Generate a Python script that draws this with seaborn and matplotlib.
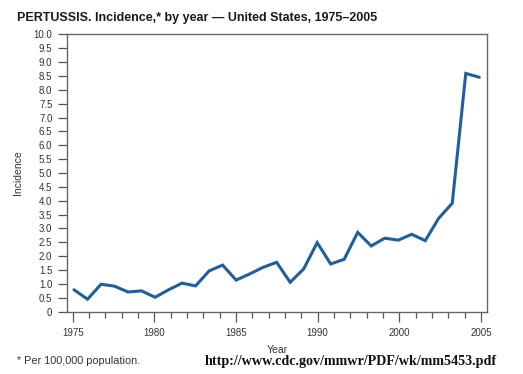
import numpy as np
import pandas as pd
import matplotlib
matplotlib.use("Agg")
import matplotlib.pyplot as plt
import seaborn as sns

years = list(range(1975, 2006))
incidence = [0.79, 0.45, 0.99, 0.92, 0.71, 0.75, 0.52, 0.79, 1.03, 0.93,
             1.47, 1.68, 1.14, 1.36, 1.60, 1.78, 1.06, 1.54, 2.49, 1.72,
             1.89, 2.86, 2.37, 2.65, 2.58, 2.79, 2.56, 3.37, 3.91, 8.59, 8.45]
x_tick_labels = ["1975", "1980", "1985", "1990", "2000", "2005"]
y_ticks = [i * 0.5 for i in range(21)]
y_tick_labels = ["0"] + [f"{v:.1f}" for v in y_ticks[1:]]

df = pd.DataFrame({"Year": years, "Incidence": incidence})

sns.set_theme(style="white")
plt.rcParams["font.family"] = ["Liberation Sans", "DejaVu Sans"]

fig = plt.figure(figsize=(5.23, 3.74), dpi=100)
ax = fig.add_axes([0.1281, 0.1666, 0.9306 - 0.1281, 0.9083 - 0.1666])

sns.lineplot(data=df, x="Year", y="Incidence", ax=ax, color="#1f5f9e",
             linewidth=2.2, solid_joinstyle="miter")

ax.set_xlim(1974.48, 2005.55)
ax.set_ylim(0, 10)

# x ticks (as printed in the original: 26 evenly spaced ticks)
tick_pos = np.linspace(1974.9, 2005.13, 26)
ax.set_xticks(tick_pos[::5])
ax.set_xticklabels(x_tick_labels)
ax.set_xticks(tick_pos, minor=True)
ax.tick_params(axis="x", which="major", direction="out", length=7.5, width=0.9,
               color="#555555", labelsize=7, labelcolor="#333333", pad=4, bottom=True)
ax.tick_params(axis="x", which="minor", direction="out", length=4.5, width=0.9,
               color="#555555", bottom=True)

ax.set_yticks(y_ticks)
ax.set_yticklabels(y_tick_labels)
ax.tick_params(axis="y", which="major", direction="out", length=6.5, width=0.9,
               color="#555555", labelsize=7, labelcolor="#333333", pad=4, left=True)

for s in ax.spines.values():
    s.set_color("#666666")
    s.set_linewidth(1.0)
    s.set_visible(True)

ax.set_xlabel("Year", fontsize=7.5, color="#333333", labelpad=5)
ax.set_ylabel("Incidence", fontsize=7.5, color="#333333", labelpad=8)

fig.text(17 / 523, 1 - 17.5 / 374,
         "PERTUSSIS. Incidence,* by year \u2014 United States, 1975\u20132005",
         fontsize=9, fontweight="bold", color="#1a1a1a", ha="left", va="center")
fig.text(17 / 523, 1 - 361 / 374, "* Per 100,000 population.",
         fontsize=7.8, color="#333333", ha="left", va="center")
fig.text(205 / 523, 1 - 361 / 374, "http://www.cdc.gov/mmwr/PDF/wk/mm5453.pdf",
         fontsize=10.2, fontweight="bold", color="#111111", ha="left", va="center",
         family=["Liberation Serif", "DejaVu Serif"])

fig.savefig("out.png", dpi=100)
